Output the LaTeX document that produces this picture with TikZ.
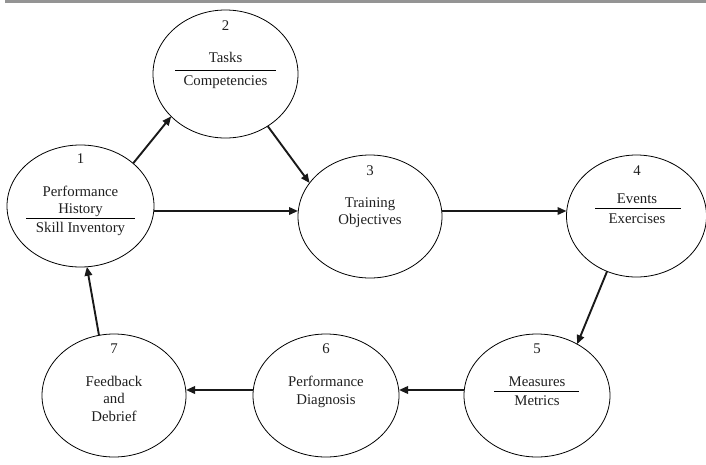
\documentclass[tikz,border=0pt]{standalone}
\usepackage{fontspec}
\setmainfont{Liberation Serif}
\usetikzlibrary{arrows.meta,shapes.geometric}
\begin{document}
\begin{tikzpicture}[x=1pt,y=-1pt,
  ell/.style={draw=black, line width=0.8pt, ellipse, inner sep=0pt, outer sep=0pt},
  lbl/.style={anchor=base, inner sep=0pt, text=black!88, font=\fontsize{14.8}{17}\selectfont},
  conn/.style={line width=1.9pt, draw=black!90, -{Triangle[length=9pt,width=7.5pt]}},
  divider/.style={line width=0.9pt, draw=black}]
\useasboundingbox (0,0) rectangle (706,464);
\fill[black!42] (5,0) rectangle (706,2.5);

% ellipses
\node[ell, minimum width=147pt, minimum height=122pt] (e1) at (80.5,206) {};
\node[ell, minimum width=145pt, minimum height=128pt] (e2) at (225.5,74) {};
\node[ell, minimum width=144pt, minimum height=123pt] (e3) at (370,216.5) {};
\node[ell, minimum width=140pt, minimum height=122pt] (e4) at (636.5,216) {};
\node[ell, minimum width=146pt, minimum height=123pt] (e5) at (537,395.5) {};
\node[ell, minimum width=146pt, minimum height=123pt] (e6) at (326,395.5) {};
\node[ell, minimum width=144pt, minimum height=123pt] (e7) at (114,395.5) {};

% texts 1
\node[lbl] (n1) at (80.5,163) {1};
\node[lbl] (t1a) at (80.5,196) {Performance};
\node[lbl] (t1b) at (80.5,213) {History};
\coordinate (r1a) at (26,218); \coordinate (r1b) at (135,218);
\draw[divider] (r1a) -- (r1b);
\node[lbl] (t1c) at (80.5,232) {Skill Inventory};

% texts 2
\node[lbl] (n2) at (225.5,30) {2};
\node[lbl] (t2a) at (225.5,62) {Tasks};
\coordinate (r2a) at (175,70); \coordinate (r2b) at (276,70);
\draw[divider] (r2a) -- (r2b);
\node[lbl] (t2b) at (225.5,85) {Competencies};

% texts 3
\node[lbl] (n3) at (370,175) {3};
\node[lbl] (t3a) at (370,207) {Training};
\node[lbl] (t3b) at (370,224) {Objectives};

% texts 4
\node[lbl] (n4) at (637,175) {4};
\node[lbl] (t4a) at (637,203) {Events};
\coordinate (r4a) at (595,208); \coordinate (r4b) at (681,208);
\draw[divider] (r4a) -- (r4b);
\node[lbl] (t4b) at (637,223) {Exercises};

% texts 5
\node[lbl] (n5) at (537,353) {5};
\node[lbl] (t5a) at (537,386) {Measures};
\coordinate (r5a) at (494,391); \coordinate (r5b) at (579,391);
\draw[divider] (r5a) -- (r5b);
\node[lbl] (t5b) at (537,405) {Metrics};

% texts 6
\node[lbl] (n6) at (326,353) {6};
\node[lbl] (t6a) at (326,386) {Performance};
\node[lbl] (t6b) at (326,404) {Diagnosis};

% texts 7
\node[lbl] (n7) at (114,353) {7};
\node[lbl] (t7a) at (114,386) {Feedback};
\node[lbl] (t7b) at (114,403) {and};
\node[lbl] (t7c) at (114,421) {Debrief};

% levels of the horizontal connectors
\coordinate (h13) at (220,211);
\coordinate (h34) at (500,211);
\coordinate (h56) at (430,390);
\coordinate (h67) at (220,390);

% connectors
\draw[conn] (e1.39.3) -- (e2.218);
\draw[conn] (e2.309.6) -- (e3.151.6);
\draw[conn] (e1.east |- h13) -- (e3.west |- h13);
\draw[conn] (e3.east |- h34) -- (e4.west |- h34);
\draw[conn] (e4.242.6) -- (e5.52);
\draw[conn] (e5.west |- h56) -- (e6.east |- h56);
\draw[conn] (e6.west |- h67) -- (e7.east |- h67);
\draw[conn] (e7.104.8) -- (e1.276);
\end{tikzpicture}
\end{document}
